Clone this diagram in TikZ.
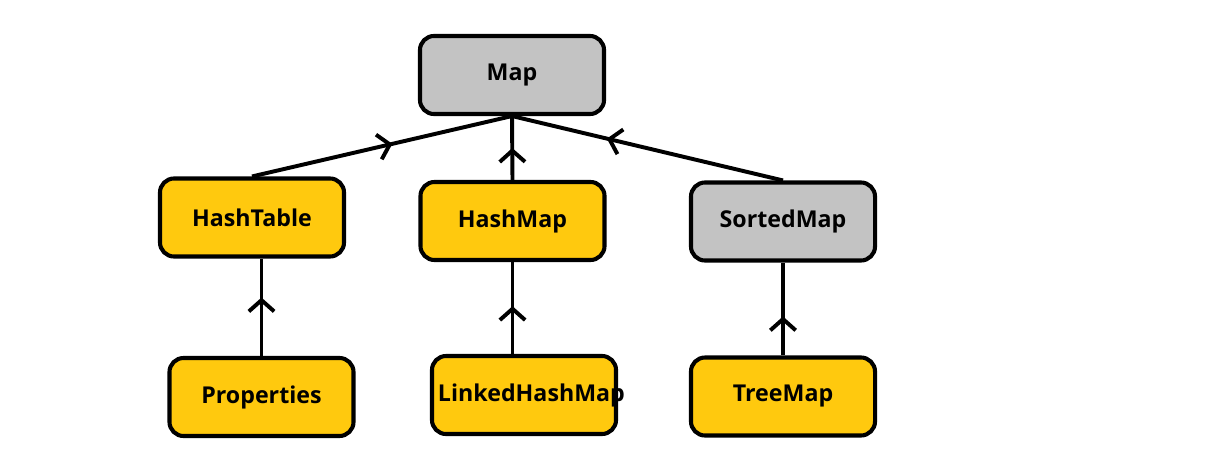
\documentclass[tikz,border=0pt]{standalone}
\usepackage{fontspec}
\setmainfont{Open Sans}
\usetikzlibrary{positioning, arrows.meta, decorations.markings}
\definecolor{boxyellow}{HTML}{FFC90E}
\definecolor{boxgray}{HTML}{C3C3C3}
\tikzset{
  cls/.style={
    draw=black, line width=2.9pt, fill=#1, rounded corners=10pt,
    minimum width=4.6cm, minimum height=1.95cm,
    align=center, font=\fontsize{16.5}{19}\selectfont\bfseries
  },
  inherit/.style={
    line width=2.8pt, postaction={decorate},
    decoration={markings, mark=at position #1 with
      {\arrow{Straight Barb[length=8pt,width=18pt,line width=2.8pt]}}}
  }
}

\begin{document}
\begin{tikzpicture}[x=0.025cm, y=-0.025cm]
\useasboundingbox (0,0) rectangle (1220,453);

%% top level
\node[cls=boxgray] (map) at (512,75) {Map};

%% second level
\node[cls=boxyellow] (ht) at (252,217.5) {HashTable};
\node[cls=boxyellow] (hm) at (512.5,221) {HashMap};
\node[cls=boxgray] (sm) at (783,221.5) {SortedMap};

%% third level
\node[cls=boxyellow] (prop) at (261.5,397) {Properties};
\node[cls=boxyellow, text width=4.3cm, inner xsep=0.15cm] (lhm) at (524,395) {LinkedHashMap};
\node[cls=boxyellow] (tm) at (783,396.5) {TreeMap};

%% inheritance lines
\draw[inherit=0.54] (ht.north) -- (map.south);
\draw[inherit=0.5] (hm.north) -- (map.south);
\draw[inherit=0.65] (sm.north) -- (map.south);

\draw[inherit=0.6] (prop.north) -- (prop.north |- ht.south);
\draw[inherit=0.52] (hm.south |- lhm.north) -- (hm.south);
\draw[inherit=0.42] (tm.north) -- (sm.south);

\end{tikzpicture}
\end{document}
